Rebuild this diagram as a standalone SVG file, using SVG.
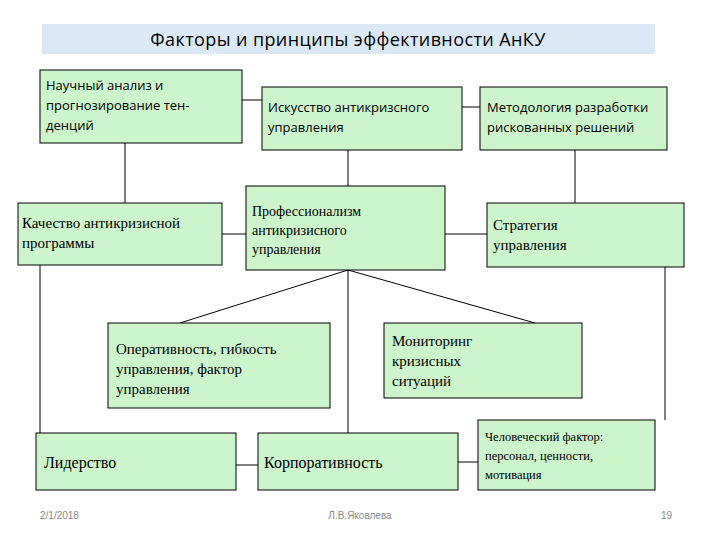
<svg xmlns="http://www.w3.org/2000/svg" width="720" height="540" viewBox="0 0 720 540">
<style>
.b{fill:#ccf5cc;stroke:#000;stroke-width:1}
.c{font-family:"Open Sans","DejaVu Sans",sans-serif;font-size:13px;fill:#000}
.s{font-family:"Liberation Serif","Times New Roman","DejaVu Serif",serif;font-size:15px;fill:#000}
.f{font-family:"Liberation Sans",sans-serif;font-size:10px;fill:#8a8a8a}
#conn line{stroke:#000;stroke-width:1}
</style>
<rect width="720" height="540" fill="#fff"/>
<g id="title"><rect x="42" y="24" width="613" height="30" fill="#dbe9f7"/>
<text x="348" y="46" text-anchor="middle" style="font-family:'Open Sans','DejaVu Sans',sans-serif;font-size:18px" letter-spacing="0.4">Факторы и принципы  эффективности АнКУ</text></g>
<g id="conn">
<line x1="125" y1="143" x2="125" y2="203"/>
<line x1="242" y1="100" x2="262" y2="100"/>
<line x1="462" y1="107" x2="480" y2="107"/>
<line x1="348" y1="150" x2="348" y2="186"/>
<line x1="575" y1="150" x2="575" y2="203"/>
<line x1="222" y1="234" x2="246" y2="234"/>
<line x1="445" y1="234" x2="487" y2="234"/>
<line x1="40" y1="265" x2="40" y2="433"/>
<line x1="665" y1="267" x2="665" y2="420"/>
<line x1="348" y1="270" x2="348" y2="433"/>
<line x1="348" y1="270" x2="180" y2="323"/>
<line x1="348" y1="270" x2="535" y2="323"/>
<line x1="236" y1="465" x2="258" y2="465"/>
<line x1="458" y1="462" x2="478" y2="462"/>
</g>
<g id="n1"><rect class="b" x="40" y="70" width="202" height="73"/><text class="c" x="46" y="90">Научный анализ и</text><text class="c" x="46" y="110">прогнозирование тен-</text><text class="c" x="46" y="130">денций</text></g>
<g id="n2"><rect class="b" x="262" y="87" width="200" height="63"/><text class="c" x="268" y="112">Искусство антикризсного</text><text class="c" x="268" y="132">управления</text></g>
<g id="n3"><rect class="b" x="480" y="87" width="187" height="63"/><text class="c" x="487" y="112">Методология разработки</text><text class="c" x="487" y="132">рискованных решений</text></g>
<g id="n4"><rect class="b" x="18" y="203" width="204" height="62"/><text class="s" x="22" y="228">Качество антикризисной</text><text class="s" x="22" y="248">программы</text></g>
<g id="n5"><rect class="b" x="246" y="186" width="199" height="84"/><text class="s" x="252" y="216" style="font-size:14px">Профессионализм</text><text class="s" x="252" y="235" style="font-size:14px">антикризисного</text><text class="s" x="252" y="254" style="font-size:14px">управления</text></g>
<g id="n6"><rect class="b" x="487" y="203" width="197" height="64"/><text class="s" x="493" y="230">Стратегия</text><text class="s" x="493" y="250">управления</text></g>
<g id="n7"><rect class="b" x="108" y="323" width="222" height="85"/><text class="s" x="116" y="354">Оперативность, гибкость</text><text class="s" x="116" y="374">управления, фактор</text><text class="s" x="116" y="394">управления</text></g>
<g id="n8"><rect class="b" x="384" y="323" width="198" height="75"/><text class="s" x="392" y="346">Мониторинг</text><text class="s" x="392" y="366">кризисных</text><text class="s" x="392" y="386">ситуаций</text></g>
<g id="n9"><rect class="b" x="36" y="433" width="200" height="57"/><text class="s" x="44" y="468" style="font-size:16px">Лидерство</text></g>
<g id="n10"><rect class="b" x="258" y="433" width="200" height="57"/><text class="s" x="264" y="468" style="font-size:16px">Корпоративность</text></g>
<g id="n11"><rect class="b" x="478" y="420" width="177" height="70"/><text class="s" x="485" y="441" style="font-size:12.5px">Человеческий фактор:</text><text class="s" x="485" y="460" style="font-size:12.5px">персонал, ценности,</text><text class="s" x="485" y="479" style="font-size:12.5px">мотивация</text></g>
<g id="footer"><text class="f" x="40" y="519">2/1/2018</text><text class="f" x="360" y="519" text-anchor="middle">Л.В.Яковлева</text><text class="f" x="672" y="519" text-anchor="end">19</text></g>
</svg>
